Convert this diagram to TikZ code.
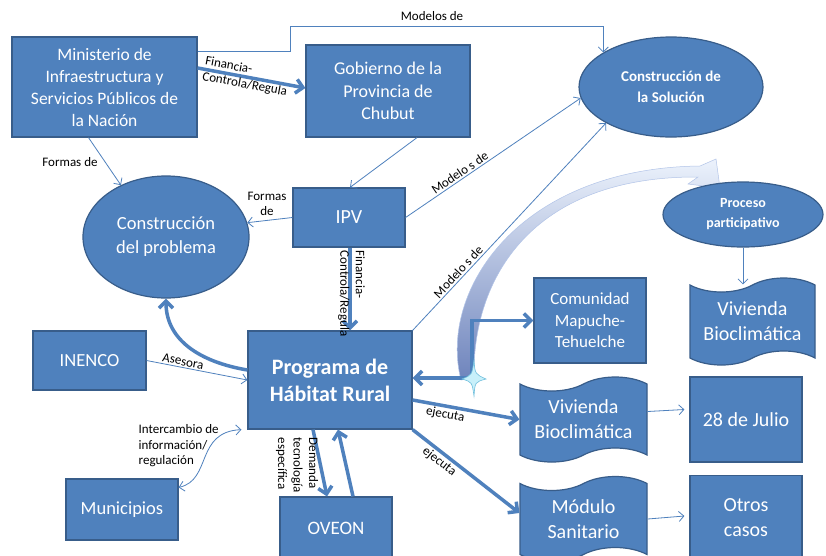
\documentclass[tikz,border=0pt]{standalone}
\usepackage{fontspec}
\setmainfont{Carlito}
\usepackage{tikz}
\usetikzlibrary{arrows.meta,positioning,shapes.geometric,shapes.symbols}
\definecolor{boxblue}{RGB}{79,129,189}
\definecolor{boxline}{RGB}{56,93,138}
\definecolor{sparkfill}{RGB}{200,240,250}
\definecolor{sparkline}{RGB}{110,190,220}
\definecolor{swoosh}{RGB}{110,132,188}
\definecolor{swooshmid}{RGB}{178,196,232}
\definecolor{swooshtop}{RGB}{236,242,252}

\begin{document}
\begin{tikzpicture}[x=1pt, y=-1pt,
  box/.style={draw=boxline, fill=boxblue, line width=1.2pt, text=white, align=center, inner sep=2pt},
  oval/.style={box, ellipse, inner sep=0pt},
  flag/.style={box, tape, tape bend height=14pt},
  thinarr/.style={-{Straight Barb[length=5pt,width=10pt]}, boxblue, line width=0.8pt},
  thickarr/.style={-{Straight Barb[length=7pt,width=14pt]}, boxblue, line width=3.5pt},
  lbl/.style={font=\fontsize{13}{15.5}\selectfont, text=black, align=center, inner sep=1.5pt}
]
\useasboundingbox (0,0) rectangle (826,555);
\fill[white] (0,0) rectangle (826,555);
\path[top color=swooshtop, middle color=swooshmid, bottom color=swoosh, draw=swooshmid, line width=0.5pt]
  (461,380) .. controls (438,290) and (520,168) .. (700,166) -- (716,159) -- (720,188) -- (688,184) -- (698,177)
  .. controls (530,176) and (472,280) .. (474,378) -- cycle;
\node[box, minimum width=185pt, minimum height=100pt, font=\fontsize{17.5}{22}\selectfont] (mini) at (104.5,87) {Ministerio de\\Infraestructura  y\\Servicios Públicos de\\la Nación};
\node[box, minimum width=164pt, minimum height=92pt, font=\fontsize{18}{22.5}\selectfont] (gob) at (388,91) {Gobierno de la\\Provincia de\\Chubut};
\node[oval, minimum width=184pt, minimum height=100pt, font=\fontsize{15}{21}\selectfont\bfseries] (sol) at (671,87) {Construcción de\\la Solución};
\node[oval, minimum width=166pt, minimum height=122pt, font=\fontsize{18.5}{24}\selectfont] (prob) at (166,237) {Construcción\\del problema};
\node[box, minimum width=112pt, minimum height=59pt, font=\fontsize{20}{24}\selectfont] (ipv) at (349,217.5) {IPV};
\node[oval, minimum width=160pt, minimum height=65pt, font=\fontsize{14}{20}\selectfont\bfseries] (proc) at (743,214.5) {Proceso\\participativo};
\node[flag, minimum width=125pt, minimum height=87pt, font=\fontsize{20}{25}\selectfont] (viva) at (752.5,321.5) {Vivienda\\Bioclimática};
\node[box, minimum width=112pt, minimum height=85pt, font=\fontsize{17}{21.5}\selectfont] (com) at (590,320.5) {Comunidad\\Mapuche-\\Tehuelche};
\node[box, minimum width=164pt, minimum height=98pt, font=\fontsize{22}{27}\selectfont\bfseries] (prog) at (330,380) {Programa de\\Hábitat Rural};
\node[box, minimum width=113pt, minimum height=59pt, font=\fontsize{18.5}{22}\selectfont] (inenco) at (89.5,360.5) {INENCO};
\node[box, minimum width=112pt, minimum height=61pt, font=\fontsize{18.5}{22}\selectfont] (muni) at (122,509.5) {Municipios};
\node[box, minimum width=112pt, minimum height=62pt, font=\fontsize{19}{22}\selectfont] (oveon) at (336,528) {OVEON};
\node[flag, minimum width=127pt, minimum height=85pt, font=\fontsize{20}{25}\selectfont] (vivb) at (583.5,419.5) {Vivienda\\Bioclimática};
\node[box, minimum width=112pt, minimum height=85pt, font=\fontsize{20}{25}\selectfont] (julio) at (746,419.5) {28 de Julio};
\node[flag, minimum width=127pt, minimum height=85pt, font=\fontsize{20}{25}\selectfont] (modulo) at (583.5,519) {Módulo\\Sanitario};
\node[box, minimum width=112pt, minimum height=85pt, font=\fontsize{20}{25}\selectfont] (otros) at (746,518) {Otros\\casos};
\coordinate (spk) at (472,378);

\draw[thinarr] ([yshift=-15pt]mini.north east) -| (290,26) -| (sol.153);
\node[lbl] (mlab) at (432,16) {Modelos de};
\draw[thickarr] ([yshift=19pt]mini.east) -- node[lbl, sloped, align=left, pos=0.45] {Financia-\\Controla/Regula} ([yshift=3pt]gob.west);
\draw[thinarr] ([xshift=-16pt]mini.south) -- (prob.131);
\node[lbl] (flab) at (70,162) {Formas de};
\draw[thinarr] ([xshift=29pt]gob.south) -- ([xshift=1pt]ipv.north);
\draw[thinarr] (ipv.west) -- (prob.10);
\node[lbl] (flab2) at (267,204) {Formas\\de};
\draw[thinarr] (ipv.east) -- node[lbl, sloped, above, pos=0.33] {Modelo s de} (sol.187);
\draw[thinarr] (prog.north east) -- node[lbl, sloped, above, pos=0.26] {Modelo s de} (sol.209);
\draw[thickarr] ([xshift=1pt]ipv.south) -- ([xshift=1pt]ipv.south |- prog.north);
\node[lbl, rotate=-90, anchor=west, align=left] (flab3) at (351.5,249) {Financia-\\Controla/Regula};
\draw[thickarr] ([yshift=10pt]prog.west) .. controls (200,362) and (166,340) .. (prob.south);
\draw[thinarr] (inenco.east) -- node[lbl, sloped, above, pos=0.35] {Asesora} (prog.west);
\draw[thinarr, {Straight Barb[length=5pt,width=10pt]}-{Straight Barb[length=5pt,width=10pt]}] ([yshift=-9pt]muni.north east) .. controls (212,480) and (195,432) .. ([xshift=-6pt]prog.south west);
\node[lbl, align=left, anchor=north west] (ilab) at (137,423) {Intercambio de\\información/\\regulación};
\draw[thickarr] ([xshift=-17pt]prog.south) -- ([xshift=-9pt]oveon.north);
\node[lbl, rotate=-90, anchor=west, align=left] (dlab) at (297,436) {Demanda\\tecnología\\específica};
\draw[thickarr] ([xshift=17pt]oveon.north) -- ([xshift=8pt]prog.south);
\draw[thickarr] ([yshift=-20pt]prog.east) -- node[lbl, sloped, below, pos=0.32] {ejecuta} (vivb.west);
\draw[thickarr] (prog.south east) -- node[lbl, sloped, below, pos=0.3] {ejecuta} ([yshift=6pt]modulo.west);
\draw[thickarr] (spk) -- (spk -| prog.east);
\draw[thickarr] (spk) |- (com.west);
\filldraw[fill=sparkfill, draw=sparkline, line width=0.6pt, shift={(spk)}]
  (2,-18) .. controls (3,-4) .. (14,1) .. controls (3,4) .. (2,18) .. controls (0,4) .. (-10,1) .. controls (0,-3) .. cycle;
\draw[thinarr] (proc.south) -- (proc.south |- viva.north);
\draw[thinarr] ([yshift=8pt]vivb.east) -- ([xshift=-5pt,yshift=10pt]julio.west);
\draw[thinarr] ([yshift=0pt]modulo.east) -- ([xshift=-5pt,yshift=2pt]otros.west);
\end{tikzpicture}
\end{document}
